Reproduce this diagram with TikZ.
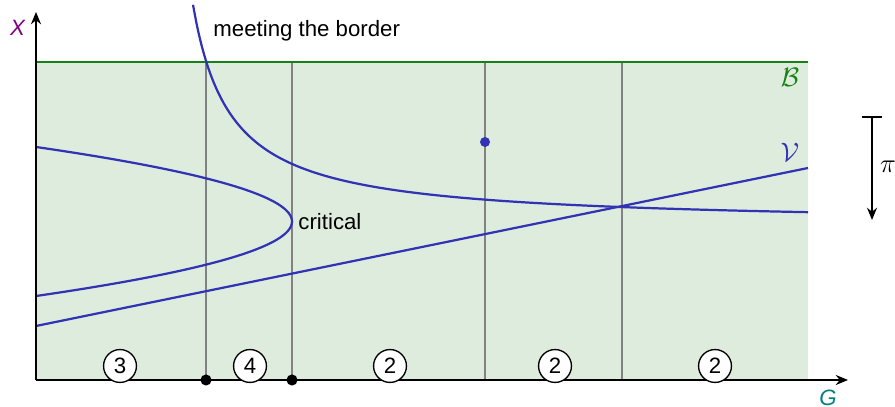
\documentclass[tikz,border=0pt]{standalone}
\usepackage{fontspec}
\setmainfont{Liberation Sans}
\setsansfont{Liberation Sans}
\usetikzlibrary{arrows.meta}
\definecolor{regfill}{RGB}{221,236,221}
\definecolor{bordergreen}{RGB}{20,130,20}
\definecolor{curveblue}{RGB}{50,50,180}
\definecolor{linegray}{RGB}{130,130,130}
\definecolor{labpurple}{RGB}{128,0,128}
\definecolor{labteal}{RGB}{0,128,128}
\tikzset{
  axis/.style={line width=0.9pt, -{Stealth[length=5.5pt,width=4.5pt]}},
  sep/.style={draw=linegray, line width=1.0pt},
  curve/.style={draw=curveblue, line width=1.0pt},
  count/.style={circle, draw=black, fill=white, line width=0.6pt, minimum size=14.8pt, inner sep=0pt, font=\fontsize{10}{12}\selectfont},
  txt/.style={font=\fontsize{10}{12}\selectfont, inner sep=0pt},
  mtxt/.style={font=\fontsize{11.5}{13}\selectfont, inner sep=0pt},
  dotnode/.style={circle, fill=black, minimum size=5pt, inner sep=0pt},
}
\begin{document}
\begin{tikzpicture}[x=0.45pt, y=-0.45pt]
\useasboundingbox (0,0) rectangle (895,407);
% region
\fill[regfill] (36,62) rectangle (808,380);
% separators
\foreach \xx in {206,292,485,622} \draw[sep] (\xx,62) -- (\xx,380);
% border
\draw[bordergreen, line width=1.2pt] (36,62) -- (808,62);
% curves
\draw[curve] plot[domain=193:808, samples=150, smooth] (\x, {225-8368/(\x-155)});
\draw[curve] plot[domain=147:296, samples=80, smooth, variable=\t] ({292-0.0461*(\t-221.5)^2}, \t);
\draw[curve] (36,326) -- (808,168);
% blue dot
\fill[curveblue] (485,142) circle (5);
% axes
\coordinate (O) at (36,380);
\coordinate (xend) at (848,380);
\coordinate (yend) at (36,12);
\draw[axis] (O) -- (xend);
\draw[axis] (O) -- (yend);
% labels
\node[txt, text=labpurple, anchor=center] (xl) at (18,28) {\textit{X}};
\node[txt, text=labteal, anchor=center] (gl) at (828,398) {\textit{G}};
\node[mtxt, text=bordergreen] (bl) at (790,77) {$\mathcal{B}$};
\node[mtxt, text=curveblue] (vl) at (790,152) {$\mathcal{V}$};
\node[txt, anchor=west] (mb) at (213,31) {meeting the border};
\node[txt, anchor=west] (cr) at (298,222) {critical};
% pi arrow
\coordinate (pa) at (872,116);
\coordinate (pb) at (872,220);
\draw[line width=0.7pt, {Bar[width=9pt]}-{Stealth[length=5.5pt,width=4.5pt]}] (pa) -- (pb);
\node[mtxt] (pi) at (888,167) {$\pi$};
% counts
\node[count] (c1) at (120,366) {3};
\node[count] (c2) at (250,366) {4};
\node[count] (c3) at (390,366) {2};
\node[count] (c4) at (555,366) {2};
\node[count] (c5) at (715,366) {2};
% dots
\node[dotnode] (d1) at (206,380) {};
\node[dotnode] (d2) at (292,380) {};
\end{tikzpicture}
\end{document}
